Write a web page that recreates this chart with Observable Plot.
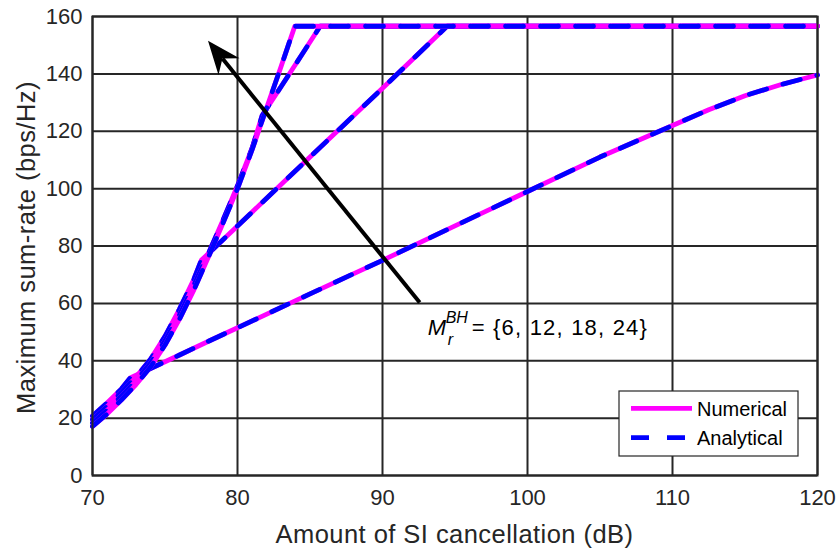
<!DOCTYPE html>
<html><head><meta charset="utf-8">
<script src="https://cdn.jsdelivr.net/npm/d3@7"></script>
<script src="https://cdn.jsdelivr.net/npm/@observablehq/plot@0.6"></script>
<style>
body{margin:0;background:#fff;}
svg{font-family:"Liberation Sans",Arial,Helvetica,sans-serif;}
</style>
</head><body><div id="chart"></div>
<script>
// ---- data ----
const mValues = [6, 12, 18, 24];
const xM6  = [70, 71, 72, 72.6, 74, 76, 78, 80, 85, 90, 95, 100, 105, 110, 112.5, 115, 117.5, 120];
const yM6  = [20.7, 25.3, 30.2, 34, 37.3, 42, 46.8, 51.5, 63.3, 75, 87, 99, 111, 122, 127.5, 132.4, 136.3, 139.6];
const xM12 = [70, 71, 72, 73, 74, 75, 76, 77, 77.5, 80, 85, 90, 94.45, 100, 110, 120];
const yM12 = [19.5, 24, 29, 34.3, 40.5, 48.5, 58, 68.5, 75, 87, 111, 135, 156.6, 156.6, 156.6, 156.6];
const xM18 = [70, 71, 72, 73, 74, 75, 76, 77, 78, 79, 80, 81, 81.7, 83, 84.5, 85.7, 90, 100, 110, 120];
const yM18 = [18.3, 22.7, 27.7, 33, 39.2, 47, 56, 66.5, 77.5, 89, 101, 114, 125.5, 135.5, 147.2, 156.6, 156.6, 156.6, 156.6, 156.6];
const xM24 = [70, 71, 72, 73, 74, 75, 76, 77, 78, 79, 80, 81, 82, 83, 83.95, 90, 100, 110, 120];
const yM24 = [17.1, 21.4, 26.4, 31.7, 37.8, 45.5, 54.5, 64.8, 76.2, 88, 100, 113.5, 128, 142.5, 156.6, 156.6, 156.6, 156.6, 156.6];
const xTicks = [70, 80, 90, 100, 110, 120];
const yTicks = [0, 20, 40, 60, 80, 100, 120, 140, 160];
const seriesNames = ["Numerical", "Analytical"];
const xLabel = "Amount of SI cancellation (dB)";
const yLabel = "Maximum sum-rate (bps/Hz)";
const arrowTail = [92.6, 60.1];
const arrowTip = [78.0, 151.4];
const annotAnchor = [93.15, 48.8];

// ---- build table ----
const xs = [xM6, xM12, xM18, xM24], ys = [yM6, yM12, yM18, yM24];
const rows = [];
mValues.forEach((m, i) => xs[i].forEach((x, j) => rows.push({M: m, x, y: ys[i][j]})));

const ink = "#262626";
const lw = 4.8;
const curveMarks = [];
mValues.forEach(m => {
  const d = rows.filter(r => r.M === m);
  curveMarks.push(Plot.line(d, {x: "x", y: "y", stroke: "#ff00ff", strokeWidth: lw, strokeLinejoin: "round"}));
  curveMarks.push(Plot.line(d, {x: "x", y: "y", stroke: "#0000ff", strokeWidth: lw, strokeDasharray: "18,17", strokeLinejoin: "round"}));
});

const plot = Plot.plot({
  width: 837, height: 550,
  marginLeft: 92, marginRight: 20, marginTop: 16, marginBottom: 75,
  style: {color: ink, fontFamily: '"Liberation Sans",Arial,sans-serif', background: "#fff"},
  x: {domain: [70, 120]},
  y: {domain: [0, 160]},
  marks: [
    Plot.gridX(xTicks, {stroke: ink, strokeOpacity: 1, strokeWidth: 2}),
    Plot.gridY(yTicks, {stroke: ink, strokeOpacity: 1, strokeWidth: 2}),
    ...curveMarks,
    Plot.frame({stroke: ink, strokeWidth: 2}),
    Plot.axisX({ticks: xTicks, tickSize: 0, tickPadding: 14, fontSize: 22, label: null}),
    Plot.axisY({ticks: yTicks, tickSize: 0, tickPadding: 10, fontSize: 22, label: null})
  ]
});
document.getElementById("chart").appendChild(plot);

// ---- annotations through the plot's scales ----
const sx = plot.scale("x"), sy = plot.scale("y");
const X = v => sx.apply(v), Y = v => sy.apply(v);
const svg = d3.select(plot);
const ff = '"Liberation Sans",Arial,sans-serif';

// axis labels
svg.append("text").attr("x", (X(70) + X(120)) / 2).attr("y", 543)
  .attr("text-anchor", "middle").attr("font-size", 25.5).attr("letter-spacing", 0.45)
  .attr("fill", ink).attr("font-family", ff).text(xLabel);
svg.append("text").attr("transform", `translate(35,${(Y(0) + Y(160)) / 2 + 2}) rotate(-90)`)
  .attr("text-anchor", "middle").attr("font-size", 25.5).attr("letter-spacing", 0.45)
  .attr("fill", ink).attr("font-family", ff).text(yLabel);

// arrow
const t0 = [X(arrowTail[0]), Y(arrowTail[1])], t1 = [X(arrowTip[0]), Y(arrowTip[1])];
const dx = t1[0] - t0[0], dy = t1[1] - t0[1], len = Math.hypot(dx, dy);
const ux = dx / len, uy = dy / len, nx = -uy, ny = ux;
const L = 36, half = 22 * Math.PI / 180, notch = 23;
const ca = Math.cos(half) * L, sa = Math.sin(half) * L;
const w1 = [t1[0] - ux * ca + nx * sa, t1[1] - uy * ca + ny * sa];
const w2 = [t1[0] - ux * ca - nx * sa, t1[1] - uy * ca - ny * sa];
const nt = [t1[0] - ux * notch, t1[1] - uy * notch];
svg.append("line").attr("x1", t0[0]).attr("y1", t0[1]).attr("x2", nt[0]).attr("y2", nt[1])
  .attr("stroke", "#000").attr("stroke-width", 4);
svg.append("path").attr("d", `M${t1}L${w1}L${nt}L${w2}Z`).attr("fill", "#000");

// M_r^BH text
const ax = X(annotAnchor[0]), ay = Y(annotAnchor[1]);
const tg = svg.append("g").attr("font-family", ff).attr("fill", "#000").attr("text-anchor", "start");
tg.append("text").attr("x", ax).attr("y", ay).attr("font-size", 22).attr("font-style", "italic").text("M");
tg.append("text").attr("x", ax + 18).attr("y", ay - 12).attr("font-size", 16).attr("font-style", "italic").text("BH");
tg.append("text").attr("x", ax + 20).attr("y", ay + 10).attr("font-size", 16).attr("font-style", "italic").text("r");
tg.append("text").attr("x", ax + 44).attr("y", ay).attr("font-size", 22).attr("letter-spacing", 1.2).text("= {6, 12, 18, 24}");

// legend
const lg = svg.append("g").attr("text-anchor", "start");
lg.append("rect").attr("x", 619).attr("y", 391).attr("width", 179).attr("height", 65)
  .attr("fill", "#fff").attr("stroke", ink).attr("stroke-width", 1.2);
const legendY = [408.3, 437.7];
const legendStyles = [{stroke: "#ff00ff", dash: null}, {stroke: "#0000ff", dash: "18,18"}];
seriesNames.forEach((name, i) => {
  const l = lg.append("line").attr("x1", 631).attr("x2", 692).attr("y1", legendY[i]).attr("y2", legendY[i])
    .attr("stroke", legendStyles[i].stroke).attr("stroke-width", lw);
  if (legendStyles[i].dash) l.attr("stroke-dasharray", legendStyles[i].dash);
  lg.append("text").attr("x", 697).attr("y", legendY[i] + 7.5).attr("font-size", 20)
    .attr("fill", "#000").attr("font-family", ff).text(name);
});
</script>
</body></html>
